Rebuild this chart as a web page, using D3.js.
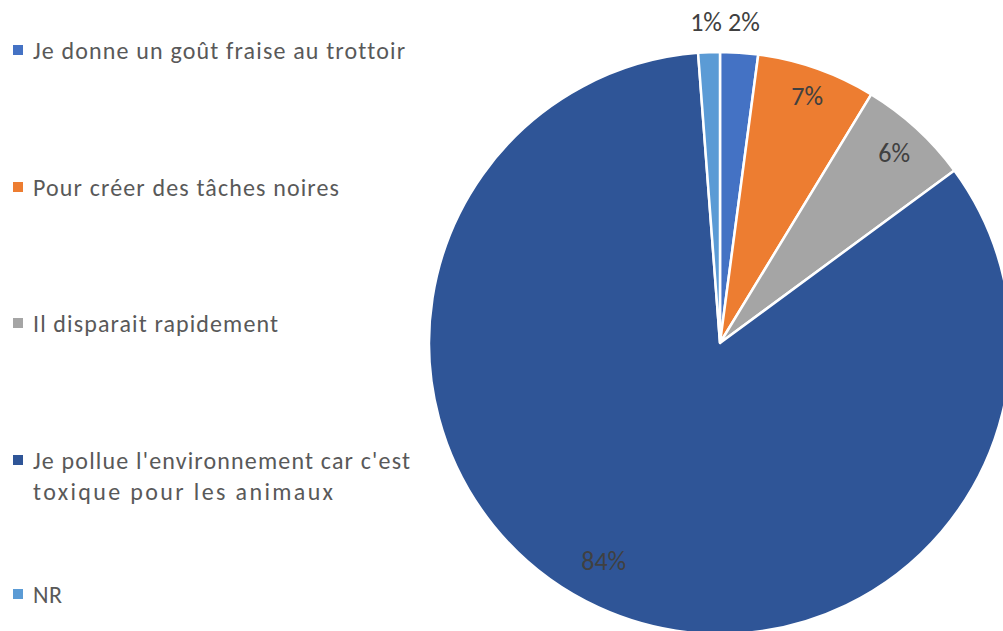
<!DOCTYPE html>
<html><head><meta charset="utf-8">
<script src="https://cdn.jsdelivr.net/npm/d3@7"></script>
<style>body{margin:0;background:#fff;overflow:hidden}svg{display:block}text{font-variant-ligatures:none}</style>
</head><body>
<svg id="c" width="1003" height="631"></svg>
<script>
const categories = ["Je donne un goût fraise au trottoir","Pour créer des tâches noires","Il disparait rapidement","Je pollue l'environnement car c'est toxique pour les animaux","NR"];
const legendLines = [["Je donne un goût fraise au trottoir"],["Pour créer des tâches noires"],["Il disparait rapidement"],["Je pollue l'environnement car c'est","toxique pour les animaux"],["NR"]];
const legendWidths = [[372],[306],[245],[377,300],[29]];
const values = [2.1, 6.6, 6.2, 83.9, 1.2];
const colors = ["#4472C4","#ED7D31","#A5A5A5","#2F5597","#5B9BD5"];

const svg = d3.select("#c");
const cx = 720, cy = 343, R = 291;
const pie = d3.pie().sort(null).value(d=>d)(values);
const arc = d3.arc().innerRadius(0).outerRadius(R);
const g = svg.append("g").attr("transform",`translate(${cx},${cy})`);
g.selectAll("path").data(pie).join("path")
  .attr("d",arc).attr("fill",(d,i)=>colors[i])
  .attr("stroke","#fff").attr("stroke-width",2.5).attr("stroke-linejoin","round");

const labelR = [null, 262, 258, 247, null];
const angleShift = [0, 0, 0, 0.06, 0];
const font = "Calibri, Carlito, Lato, 'Open Sans', sans-serif";
pie.forEach((d,i)=>{
  let x,y;
  const a = (d.startAngle+d.endAngle)/2 + angleShift[i];
  if(labelR[i]){ x = Math.sin(a)*labelR[i]; y = -Math.cos(a)*labelR[i]; }
  else if(i===0){ x = 24; y = -321; }
  else { x = -14; y = -321; }
  g.append("text").attr("x",x).attr("y",y).attr("text-anchor","middle").attr("dominant-baseline","central")
   .attr("font-family",font).attr("font-size",26).attr("fill","#404040")
   .text(Math.round(values[i])+"%");
});

const legY = [50,187,323,460,594];
legendLines.forEach((lines,i)=>{
  svg.append("rect").attr("x",13).attr("y",legY[i]-5).attr("width",10).attr("height",10).attr("fill",colors[i]);
  lines.forEach((t,j)=>{
    svg.append("text").attr("x",33).attr("y",legY[i]+j*31).attr("dominant-baseline","central")
      .attr("font-family",font).attr("font-size",24).attr("fill","#595959")
      .attr("textLength",legendWidths[i][j]).attr("lengthAdjust","spacing").text(t);
  });
});
</script>
</body></html>
